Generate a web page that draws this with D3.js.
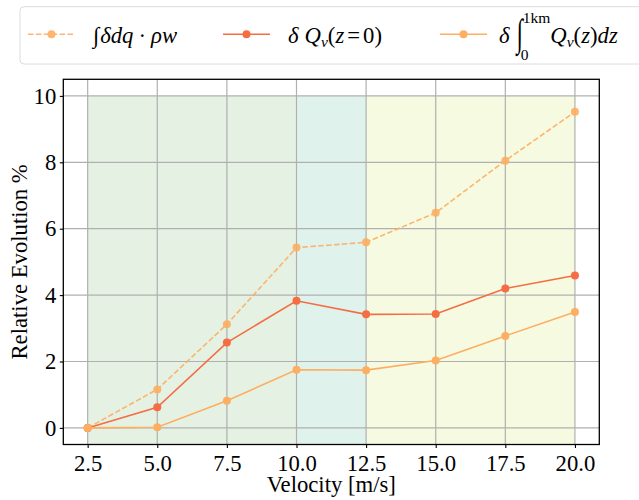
<!DOCTYPE html>
<html><head><meta charset="utf-8">
<script src="https://cdn.jsdelivr.net/npm/d3@7"></script>
<style>body{margin:0;background:#fff}svg{display:block}</style>
</head><body>
<svg id="c" width="639" height="500"></svg>
<script>
const velocity = [2.5, 5.0, 7.5, 10.0, 12.5, 15.0, 17.5, 20.0];
const fluxIntegral = [0, 1.16, 3.12, 5.43, 5.59, 6.48, 8.05, 9.52];
const qvSurface = [0, 0.62, 2.57, 3.83, 3.42, 3.43, 4.20, 4.59];
const qvColumn = [0, 0.02, 0.82, 1.75, 1.74, 2.03, 2.77, 3.49];
const xTicks = [2.5, 5.0, 7.5, 10.0, 12.5, 15.0, 17.5, 20.0];
const yTicks = [0, 2, 4, 6, 8, 10];
const regions = [
  {x0: 2.5, x1: 10.0, color: "#e5f2e3"},
  {x0: 10.0, x1: 12.5, color: "#e0f2ec"},
  {x0: 12.5, x1: 20.0, color: "#f6fae0"}
];

const svg = d3.select("#c");
const L = 63.3, R = 599.3, T = 79.3, B = 444.5;
const x = d3.scaleLinear().domain([1.625, 20.875]).range([L, R]);
const y = d3.scaleLinear().domain([-0.5, 10.5]).range([B, T]);
const serif = '"Liberation Serif"';
const FS = 22.7;

svg.append("g").selectAll("rect").data(regions).join("rect")
  .attr("x", d => x(d.x0)).attr("width", d => x(d.x1) - x(d.x0))
  .attr("y", y(10)).attr("height", y(-0.5) - y(10))
  .attr("fill", d => d.color);

const grid = svg.append("g").attr("stroke", "#b0b0b0").attr("stroke-width", 1.2);
grid.selectAll("line.v").data(xTicks).join("line").attr("class","v")
  .attr("x1", d => x(d)).attr("x2", d => x(d)).attr("y1", T).attr("y2", B);
grid.selectAll("line.h").data(yTicks).join("line").attr("class","h")
  .attr("y1", d => y(d)).attr("y2", d => y(d)).attr("x1", L).attr("x2", R);

const series = [
  {vals: fluxIntegral, color: "#fdae61", dash: "5.5,2.4", opacity: 0.9},
  {vals: qvSurface, color: "#f46d43", dash: null, opacity: 1},
  {vals: qvColumn, color: "#fdae61", dash: null, opacity: 1}
];
const line = d3.line().x((d, i) => x(velocity[i])).y(d => y(d));
series.forEach(s => {
  const g = svg.append("g").attr("opacity", s.opacity);
  g.append("path").attr("d", line(s.vals)).attr("fill", "none")
    .attr("stroke", s.color).attr("stroke-width", 1.6)
    .attr("stroke-dasharray", s.dash);
  g.selectAll("circle").data(s.vals).join("circle")
    .attr("cx", (d, i) => x(velocity[i])).attr("cy", d => y(d)).attr("r", 4)
    .attr("fill", s.color);
});

const xa = svg.append("g").attr("transform", `translate(0,${B})`)
  .call(d3.axisBottom(x).tickValues(xTicks).tickFormat(d3.format(".1f")).tickSize(3.5).tickPadding(7));
const ya = svg.append("g").attr("transform", `translate(${L},0)`)
  .call(d3.axisLeft(y).tickValues(yTicks).tickFormat(d3.format("d")).tickSize(3.5).tickPadding(3.5));
[xa, ya].forEach(a => {
  a.attr("font-family", null).attr("font-size", null);
  a.selectAll("text").style("font-family", serif).style("font-size", FS + "px").attr("fill", "#000");
  a.selectAll("line").attr("stroke", "#000").attr("stroke-width", 1.1);
  a.select(".domain").remove();
});
svg.append("rect").attr("x", L).attr("y", T).attr("width", R - L).attr("height", B - T)
  .attr("fill", "none").attr("stroke", "#000").attr("stroke-width", 1.3);

svg.append("text").attr("x", (L + R) / 2).attr("y", 492).attr("text-anchor", "middle")
  .style("font-family", serif).style("font-size", FS + "px").text("Velocity [m/s]");
svg.append("text").attr("transform", `translate(26.5,${(T + B) / 2}) rotate(-90)`)
  .attr("text-anchor", "middle").style("font-family", serif).style("font-size", FS + "px")
  .text("Relative Evolution %");

// legend
svg.append("rect").attr("x", 20).attr("y", 6.7).attr("width", 640).attr("height", 57.3)
  .attr("rx", 4).attr("fill", "#fff").attr("stroke", "#dcdcdc").attr("stroke-width", 1);
const ly = 34.3, lb = 43;
const leg = [
  {x0: 28, color: "#fdae61", dash: "5.5,2.4", opacity: 0.9},
  {x0: 223, color: "#f46d43", dash: null, opacity: 1},
  {x0: 440, color: "#fdae61", dash: null, opacity: 1}
];
leg.forEach(l => {
  const g = svg.append("g").attr("opacity", l.opacity);
  g.append("line").attr("x1", l.x0).attr("x2", l.x0 + 47).attr("y1", ly).attr("y2", ly)
    .attr("stroke", l.color).attr("stroke-width", 1.6).attr("stroke-dasharray", l.dash);
  g.append("circle").attr("cx", l.x0 + 23.5).attr("cy", ly).attr("r", 4).attr("fill", l.color);
});
function mt(x0, parts) {
  const g = svg.append("g");
  let cx = x0;
  parts.forEach(p => {
    cx += (p.gap || 0);
    const fs = p.fs || FS;
    const t = g.append("text")
      .attr("transform", `translate(${cx},${lb + (p.dy || 0)}) scale(1,${p.sy || 1})`)
      .style("font-family", serif).style("font-size", fs + "px")
      .style("font-style", p.i ? "italic" : "normal").text(p.t);
    const w = t.node().getComputedTextLength();
    if (!p.keep) cx += w;
  });
}
mt(93, [{t: "∫", i: 1}, {t: "δdq", i: 1, gap: 1}, {t: "·", gap: 5}, {t: "ρw", i: 1, gap: 5}]);
mt(288, [{t: "δ", i: 1}, {t: "Q", i: 1, gap: 6}, {t: "v", i: 1, fs: 15.5, dy: 4}, {t: "("}, {t: "z", i: 1}, {t: "=", gap: 3}, {t: "0", gap: 3}, {t: ")"}]);
mt(499, [{t: "δ", i: 1}, {t: "∫", i: 1, gap: 7, dy: 2.5, sy: 1.7}, {t: "0", fs: 15.5, dy: 17, gap: -2, keep: 1}, {t: "1km", fs: 15.5, dy: -20, gap: 2}, {t: "Q", i: 1}, {t: "v", i: 1, fs: 15.5, dy: 4}, {t: "("}, {t: "z", i: 1}, {t: ")"}, {t: "dz", i: 1}]);
</script>
</body></html>
